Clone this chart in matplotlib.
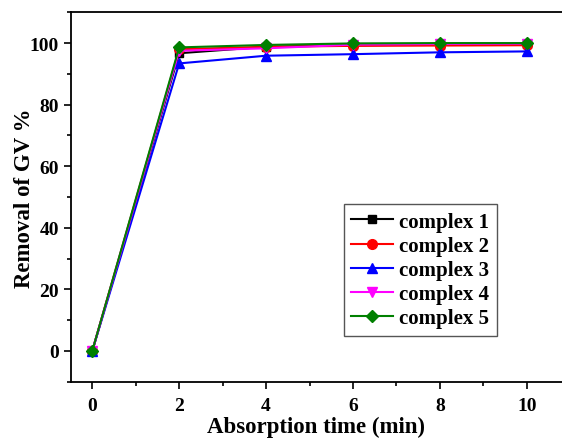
import matplotlib
matplotlib.use("Agg")
import matplotlib.pyplot as plt
from matplotlib.ticker import MultipleLocator

# data
time_min = [0, 2, 4, 6, 8, 10]
complex_1 = [0, 96.7, 98.8, 99.3, 99.5, 99.6]
complex_2 = [0, 98.0, 98.8, 99.1, 99.2, 99.3]
complex_3 = [0, 93.4, 95.9, 96.4, 97.0, 97.3]
complex_4 = [0, 97.5, 98.3, 99.5, 99.7, 99.8]
complex_5 = [0, 98.6, 99.4, 99.9, 100.0, 100.0]
labels = ["complex 1", "complex 2", "complex 3", "complex 4", "complex 5"]

plt.rcParams["font.family"] = ["Liberation Serif", "DejaVu Serif"]
plt.rcParams["font.weight"] = "bold"

fig = plt.figure(figsize=(5.62, 4.39), dpi=100)
ax = fig.add_axes([0.1263, 0.1282, 0.8737, 0.8415])

series = [complex_1, complex_2, complex_3, complex_4, complex_5]
colors = ["black", "red", "blue", "magenta", "green"]
markers = ["s", "o", "^", "v", "D"]
sizes = [6, 7, 7, 7, 6]
for vals, c, m, s, lab in zip(series, colors, markers, sizes, labels):
    ax.plot(time_min, vals, color=c, marker=m, markersize=s, lw=1.5, label=lab)

ax.set_xlim(-0.49, 10.81)
ax.set_ylim(-10, 110)
ax.xaxis.set_major_locator(MultipleLocator(2))
ax.xaxis.set_minor_locator(MultipleLocator(1))
ax.yaxis.set_major_locator(MultipleLocator(20))
ax.yaxis.set_minor_locator(MultipleLocator(10))
ax.tick_params(which="major", length=5, width=1.2, labelsize=14, direction="out")
ax.tick_params(axis="x", which="major", pad=6)
ax.tick_params(which="minor", length=3, width=1.2, direction="out")
for sp in ["left", "bottom", "top"]:
    ax.spines[sp].set_linewidth(1.3)
ax.spines["right"].set_visible(False)

ax.set_xlabel("Absorption time (min)", fontsize=16.5, fontweight="bold", labelpad=1)
ax.set_ylabel("Removal of GV %", fontsize=16.5, fontweight="bold")
ax.yaxis.set_label_coords(-0.073, 0.5)

leg = ax.legend(loc="upper left", bbox_to_anchor=(0.535, 0.508),
                prop={"weight": "bold", "size": 15}, fancybox=False,
                edgecolor="#555555", framealpha=1, handlelength=2.0,
                borderpad=0.35, labelspacing=0.2, handletextpad=0.3)
leg.get_frame().set_linewidth(1.0)

fig.savefig("out.png", dpi=100)
